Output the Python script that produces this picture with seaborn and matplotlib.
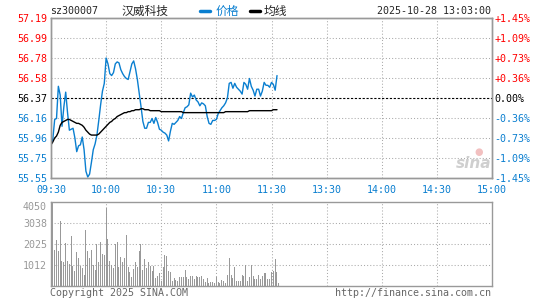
import pandas as pd
import seaborn as sns
import matplotlib.pyplot as plt
from matplotlib.lines import Line2D

# minute index: 0 = 09:30, 120 = 11:30/13:00, 240 = 15:00
minutes = list(range(124))

price = [55.89, 55.95, 56.15, 56.16, 56.49, 56.40, 56.08, 56.28, 56.43, 56.22,
         56.04, 56.05, 56.06, 55.96, 55.82, 55.88, 55.89, 55.97, 55.84, 55.62,
         55.56, 55.59, 55.71, 55.84, 55.90, 55.99, 56.14, 56.30, 56.44, 56.52,
         56.78, 56.72, 56.62, 56.60, 56.63, 56.72, 56.74, 56.73, 56.66, 56.62,
         56.59, 56.57, 56.56, 56.64, 56.72, 56.75, 56.67, 56.56, 56.42, 56.28,
         56.13, 56.06, 56.06, 56.12, 56.12, 56.16, 56.11, 56.17, 56.12, 56.05,
         56.04, 56.02, 56.01, 55.99, 55.93, 56.03, 56.11, 56.10, 56.12, 56.14,
         56.18, 56.16, 56.22, 56.27, 56.28, 56.30, 56.42, 56.38, 56.40, 56.35,
         56.33, 56.29, 56.32, 56.31, 56.29, 56.18, 56.11, 56.10, 56.14, 56.14,
         56.15, 56.21, 56.24, 56.27, 56.29, 56.32, 56.37, 56.52, 56.53, 56.47,
         56.52, 56.48, 56.46, 56.44, 56.41, 56.53, 56.51, 56.46, 56.57, 56.49,
         56.45, 56.39, 56.46, 56.46, 56.39, 56.44, 56.53, 56.50, 56.50, 56.48,
         56.53, 56.51, 56.45, 56.60]

avg_price = [55.89, 55.92, 55.96, 55.98, 56.02, 56.09, 56.12, 56.13, 56.14, 56.15,
             56.15, 56.14, 56.13, 56.12, 56.11, 56.11, 56.10, 56.09, 56.07, 56.04,
             56.02, 56.00, 55.99, 55.99, 55.99, 55.99, 56.00, 56.02, 56.04, 56.06,
             56.08, 56.10, 56.12, 56.13, 56.15, 56.16, 56.18, 56.19, 56.20, 56.21,
             56.22, 56.22, 56.23, 56.23, 56.24, 56.24, 56.25, 56.25, 56.25, 56.26,
             56.26, 56.25, 56.25, 56.25, 56.24, 56.24, 56.24, 56.24, 56.24, 56.24,
             56.23, 56.23, 56.23, 56.23, 56.23, 56.23, 56.23, 56.23, 56.23, 56.23,
             56.23, 56.23, 56.22, 56.22, 56.22, 56.22, 56.22, 56.22, 56.22, 56.22,
             56.22, 56.22, 56.22, 56.22, 56.22, 56.22, 56.22, 56.22, 56.22, 56.22,
             56.22, 56.22, 56.22, 56.22, 56.22, 56.23, 56.23, 56.23, 56.23, 56.23,
             56.23, 56.23, 56.23, 56.23, 56.23, 56.23, 56.23, 56.23, 56.24, 56.24,
             56.24, 56.24, 56.24, 56.24, 56.24, 56.24, 56.24, 56.24, 56.24, 56.24,
             56.24, 56.25, 56.25, 56.25]

volume = [4050, 1701, 2187, 1652, 3110, 1215, 1134, 2074, 1215, 1053,
          2381, 972, 729, 1620, 1328, 940, 842, 535, 2673, 1652,
          1328, 1701, 1004, 778, 2025, 1134, 2106, 1539, 1458, 3758,
          2268, 1215, 1004, 842, 2025, 2106, 891, 1377, 1134, 1328,
          2430, 891, 648, 405, 810, 1166, 891, 1652, 2025, 778,
          1296, 842, 1166, 972, 729, 940, 356, 486, 616, 243,
          891, 1490, 1409, 729, 680, 243, 356, 292, 243, 405,
          405, 405, 778, 405, 324, 454, 486, 324, 454, 405,
          405, 454, 324, 162, 356, 130, 194, 194, 130, 405,
          194, 130, 275, 243, 130, 535, 1328, 518, 356, 891,
          243, 243, 243, 535, 454, 1021, 243, 405, 1021, 486,
          324, 324, 518, 324, 454, 600, 600, 324, 324, 680,
          700, 1296, 648, 130]

prev_close = 56.37
price_ticks = [55.55, 55.75, 55.96, 56.16, 56.37, 56.58, 56.78, 56.99, 57.19]
pct_labels = ["-1.45%", "-1.09%", "-0.73%", "-0.36%", "0.00%",
              "+0.36%", "+0.73%", "+1.09%", "+1.45%"]
time_ticks = [0, 30, 60, 90, 120, 150, 180, 210, 240]
time_labels = ["09:30", "10:00", "10:30", "11:00", "11:30",
               "13:30", "14:00", "14:30", "15:00"]
vol_ticks = [1012, 2025, 3038, 4050]

sns.set_style("white")
plt.rcParams["font.family"] = ["DejaVu Sans Mono", "Noto Sans CJK SC"]

blue = "#0a7fd0"
red = "#ff0000"
grey = "#999999"
dots = (0, (1, 2))
fs = 7.2

df = pd.DataFrame({"minute": minutes, "price": price, "avg": avg_price, "volume": volume})
df["bar_x"] = df["minute"] + 0.7

W, H = 545, 300


def px(x):
    return x / W


def py(y):
    return 1 - y / H


fig = plt.figure(figsize=(W / 100, H / 100), dpi=100)
ax = fig.add_axes([px(51), py(178), 441 / W, 160 / H])
axv = fig.add_axes([px(51), py(285.7), 441 / W, 84 / H])

# grids
for t in time_ticks[1:-1]:
    ax.axvline(t, color="#aaaaaa", ls=dots, lw=0.75, zorder=0)
    axv.axvline(t, color="#aaaaaa", ls=dots, lw=0.75, zorder=0)
for p in price_ticks[1:-1]:
    if p == prev_close:
        ax.axhline(p, color="black", ls=(0, (2, 1.5)), lw=0.8, zorder=1)
    else:
        ax.axhline(p, color="#aaaaaa", ls=dots, lw=0.75, zorder=0)
for v in vol_ticks[:-1]:
    axv.axhline(v, color="#aaaaaa", ls=dots, lw=0.75, zorder=0)

# price + average lines
sns.lineplot(data=df, x="minute", y="price", color=blue, lw=1.0, ax=ax)
sns.lineplot(data=df, x="minute", y="avg", color="black", lw=1.0, ax=ax)
ax.set_xlim(0, 240)
ax.set_ylim(price_ticks[0], price_ticks[-1])
ax.set_xlabel("")
ax.set_ylabel("")
ax.set_xticks(time_ticks, labels=time_labels)
ax.set_yticks(price_ticks, labels=[f"{p:.2f}" for p in price_ticks])
ax.tick_params(axis="both", length=0, labelsize=fs)
ax.tick_params(axis="y", pad=3)
ax.tick_params(axis="x", pad=5, labelcolor=blue)
for lab, p in zip(ax.get_yticklabels(), price_ticks):
    lab.set_color(red if p > prev_close else ("black" if p == prev_close else blue))

ax2 = ax.twinx()
ax2.set_ylim(price_ticks[0], price_ticks[-1])
ax2.set_yticks(price_ticks, labels=pct_labels)
ax2.tick_params(axis="y", length=0, labelsize=fs, pad=1.5)
for lab, p in zip(ax2.get_yticklabels(), price_ticks):
    lab.set_color(red if p > prev_close else ("black" if p == prev_close else blue))

# volume bars (1px sticks)
axv.vlines(df["bar_x"], 0, df["volume"], color=grey, lw=0.5, antialiased=False)
axv.set_xlim(0, 240)
axv.set_ylim(0, 4050)
axv.set_xticks([])
axv.set_yticks(vol_ticks, labels=[str(v) for v in vol_ticks])
axv.tick_params(axis="y", length=0, labelsize=fs, pad=3, labelcolor=grey)
axv.get_yticklabels()[-1].set_verticalalignment("top")

for a in (ax, ax2, axv):
    for s in a.spines.values():
        s.set_color(grey)
        s.set_linewidth(1)

# header
fig.text(px(50), py(11), "sz300007", fontsize=fs, va="center", ha="left")
fig.text(px(121), py(11), "汉威科技", fontsize=8.5, va="center", ha="left",
         family=["Noto Sans CJK SC"])
fig.add_artist(Line2D([px(200), px(210)], [py(11), py(11)], color=blue, lw=2.5))
fig.text(px(216), py(11), "价格", fontsize=8.5, va="center", ha="left",
         color=blue, family=["Noto Sans CJK SC"])
fig.add_artist(Line2D([px(250), px(260)], [py(11), py(11)], color="black", lw=2.5))
fig.text(px(264), py(11), "均线", fontsize=8.5, va="center", ha="left",
         family=["Noto Sans CJK SC"])
fig.text(px(491), py(11), "2025-10-28 13:03:00", fontsize=fs, va="center", ha="right")

# footer
fig.text(px(50), py(292.5), "Copyright 2025 SINA.COM", fontsize=fs, va="center",
         ha="left", color="#666666")
fig.text(px(491), py(292.5), "http://finance.sina.com.cn", fontsize=fs, va="center",
         ha="right", color="#666666")

# watermark
fig.text(px(474), py(164), "sina", fontsize=11, style="italic", weight="bold",
         color="#cfcfcf", ha="center", va="center", family=["DejaVu Sans"])
fig.text(px(479), py(152), "●", fontsize=7, color="#f2c0c0", ha="center",
         va="center", family=["DejaVu Sans"])

fig.savefig("out.png", dpi=100)
